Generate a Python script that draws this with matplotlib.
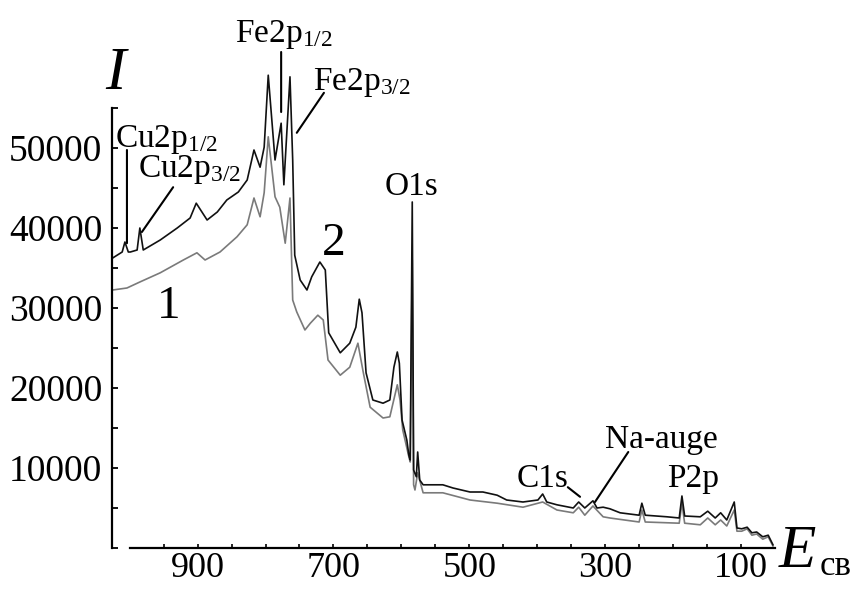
import matplotlib
matplotlib.use("Agg")
import matplotlib.pyplot as plt
from matplotlib.ticker import FixedLocator

plt.rcParams['font.family'] = ['Liberation Serif', 'DejaVu Serif']
plt.rcParams['mathtext.fontset'] = 'custom'
plt.rcParams['mathtext.rm'] = 'Liberation Serif'
plt.rcParams['mathtext.it'] = 'Liberation Serif:italic'

# binding energy (eV) and intensity
# curve 2 (black)
e2 = [1025, 1011, 1007, 1002, 999, 989, 985, 980, 955, 930, 911, 902, 886, 871,
      857, 840, 827, 817, 808, 802, 796, 786, 777, 773, 764, 760, 757, 749, 739,
      732, 720, 712, 707, 690, 676, 667, 662, 658, 652, 642, 627, 617, 611, 606,
      603, 599, 592, 589, 587, 584, 582, 578, 576, 573, 568, 558, 539, 524, 499,
      480, 459, 445, 421, 399, 392, 386, 371, 347, 339, 330, 318, 312, 303, 293,
      278, 250, 246, 241, 209, 191, 187, 183, 160, 149, 138, 130, 121, 110, 106,
      99, 91, 84, 77, 68, 60, 53]
i2 = [36250, 37000, 38250, 37000, 37000, 37250, 40000, 37250, 38500, 40000, 41250,
      43100, 41000, 42000, 43500, 44500, 46000, 49750, 47600, 50100, 59100, 48500,
      53100, 45400, 58900, 48500, 36600, 33500, 32250, 33900, 35750, 34750, 26900,
      24400, 25600, 27600, 31100, 29400, 21900, 18500, 18100, 18500, 22600, 24500,
      23100, 16000, 13500, 11600, 11000, 43250, 9750, 8900, 12000, 8500, 7900,
      7900, 7900, 7500, 7000, 7000, 6600, 6000, 5750, 6000, 6750, 5750, 5400,
      5000, 5750, 5000, 5900, 5000, 5100, 4900, 4400, 4100, 5600, 4100, 3900,
      3750, 6500, 4000, 3900, 4600, 3750, 4400, 3500, 5750, 2500, 2400, 2600,
      1900, 2000, 1400, 1600, 400]

# curve 1 (grey)
e1 = [1025, 1004, 985, 955, 921, 901, 889, 867, 842, 827, 817, 808, 802, 796,
      786, 779, 771, 764, 760, 754, 742, 734, 723, 715, 708, 690, 676, 664, 656,
      646, 627, 617, 606, 602, 598, 589, 587, 584, 582, 580, 576, 568, 539, 499,
      459, 421, 392, 371, 347, 339, 330, 318, 303, 293, 250, 246, 241, 191, 187,
      183, 160, 149, 138, 130, 121, 110, 106, 99, 91, 84, 77, 68, 60, 53]
i1 = [32250, 32500, 33250, 34400, 36000, 36900, 36000, 37000, 38900, 40400, 43750,
      41400, 44400, 51400, 43900, 42600, 38100, 43750, 31000, 29500, 27250, 28100,
      29100, 28500, 23500, 21600, 22600, 25600, 21900, 17600, 16250, 16400, 20400,
      18500, 14750, 11400, 10750, 36000, 7900, 7250, 9400, 6900, 6900, 6000, 5600,
      5100, 5750, 4750, 4400, 5100, 4100, 5250, 3900, 3750, 3250, 4750, 3250,
      3100, 5600, 3100, 2900, 3750, 2900, 3500, 2750, 4750, 2100, 2100, 2400,
      1600, 1750, 1100, 1400, 250]

y_major = [10000, 20000, 30000, 40000, 50000]
y_minor = [0, 5000, 15000, 25000, 35000, 45000, 55000]
x_major = [900, 700, 500, 300, 100]
x_minor = [950, 850, 800, 750, 650, 600, 550, 450, 400, 350, 250, 200, 150]

# peak labels: (text, text position, line start, line end)
peaks = [
    (r'Cu2p$_{1/2}$', (1022, 50100), (1004, 49750), (1004, 38100)),
    (r'Cu2p$_{3/2}$', (988, 46400), (936, 45100), (982, 39500)),
    (r'Fe2p$_{1/2}$', (845, 63250), (777, 62000), (777, 54500)),
    (r'Fe2p$_{3/2}$', (730, 57250), (714, 56900), (754, 51900)),
    ('O1s', (624, 44100), None, None),
    ('C1s', (430, 7600), (355, 7600), (337, 6400)),
    ('Na-auge', (300, 12500), (266, 12000), (315, 5750)),
    ('P2p', (209, 7600), None, None),
]


def main():
    fig = plt.figure(figsize=(8.56, 5.89), dpi=100)
    ax = fig.add_axes([112 / 856, 41 / 589, 663 / 856, 520 / 589])

    ax.plot(e1, i1, color='#7a7a7a', lw=1.2)
    ax.plot(e2, i2, color='#111111', lw=1.2)

    ax.set_xlim(1026, 50)
    ax.set_ylim(0, 65000)

    for s in ['top', 'right']:
        ax.spines[s].set_visible(False)
    for s in ['left', 'bottom']:
        ax.spines[s].set_linewidth(1.6)
    ax.spines['left'].set_bounds(0, 55000)
    ax.spines['bottom'].set_bounds(1000, 50)

    ax.yaxis.set_major_locator(FixedLocator(y_major))
    ax.yaxis.set_minor_locator(FixedLocator(y_minor))
    ax.xaxis.set_major_locator(FixedLocator(x_major))
    ax.xaxis.set_minor_locator(FixedLocator(x_minor))
    ax.set_yticklabels([str(v) for v in y_major])
    ax.set_xticklabels([str(v) for v in x_major])
    ax.tick_params(axis='y', which='both', direction='in', length=4.5, width=1.3,
                   labelsize=27, pad=7)
    ax.tick_params(axis='x', which='both', direction='in', length=3, width=1.2,
                   labelsize=26, pad=3)

    for label, txy, start, end in peaks:
        ax.text(txy[0], txy[1], label, fontsize=24, ha='left', va='baseline')
        if start is not None:
            ax.annotate('', xy=end, xytext=start,
                        arrowprops=dict(arrowstyle='-', lw=1.5, color='black',
                                        shrinkA=0, shrinkB=0))

    # curve numbers
    ax.text(960, 28750, '1', fontsize=34, ha='left', va='baseline')
    ax.text(717, 36600, '2', fontsize=34, ha='left', va='baseline')

    # axis names
    fig.text(105 / 856, 1 - 89 / 589, 'I', fontsize=44, style='italic',
             ha='left', va='baseline')
    fig.text(779 / 856, 1 - 567 / 589, 'E', fontsize=44, style='italic',
             ha='left', va='baseline')
    fig.text(820 / 856, 1 - 575 / 589, 'св', fontsize=25,
             ha='left', va='baseline')

    fig.savefig('out.png', dpi=100)


if __name__ == "__main__":
    main()
